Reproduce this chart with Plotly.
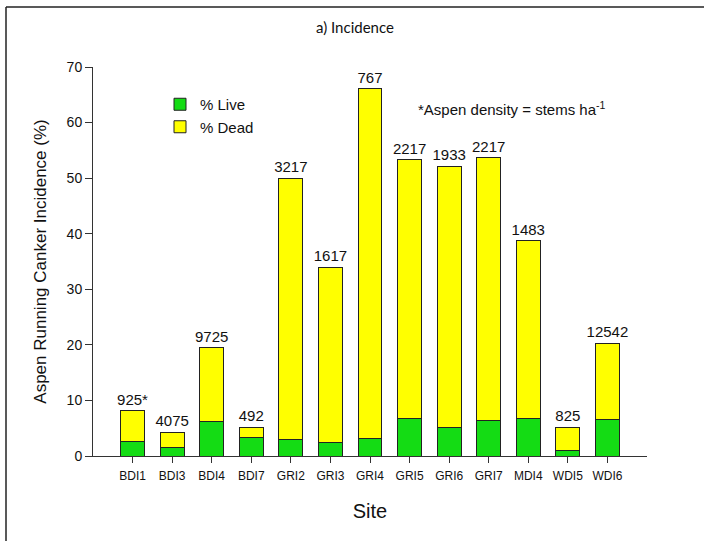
import plotly.graph_objects as go

sites = ["BDI1", "BDI3", "BDI4", "BDI7", "GRI2", "GRI3", "GRI4",
         "GRI5", "GRI6", "GRI7", "MDI4", "WDI5", "WDI6"]
pct_live = [2.7, 1.5, 6.2, 3.4, 2.9, 2.5, 3.2, 6.8, 5.2, 6.4, 6.8, 1.0, 6.6]
pct_total = [8.1, 4.3, 19.5, 5.2, 50.0, 34.0, 66.1, 53.3, 52.1, 53.7, 38.7, 5.2, 20.3]
pct_dead = [round(t - l, 1) for t, l in zip(pct_total, pct_live)]
density_labels = ["925*", "4075", "9725", "492", "3217", "1617", "767",
                  "2217", "1933", "2217", "1483", "825", "12542"]

FONT = "Arial, Liberation Sans, sans-serif"
W, H = 704, 541
L, R, T, B = 93, 57, 67, 85
pw, ph = W - L - R, H - T - B

fig = go.Figure()
fig.add_trace(go.Bar(
    x=sites, y=pct_live, name="% Live",
    marker=dict(color="#14dc14", line=dict(color="#222222", width=1)),
    width=0.6,
))
fig.add_trace(go.Bar(
    x=sites, y=pct_dead, name="% Dead",
    marker=dict(color="#ffff00", line=dict(color="#222222", width=1)),
    width=0.6,
    text=density_labels, textposition="outside",
    textfont=dict(family=FONT, size=15, color="#111111"),
    cliponaxis=False,
))

def px_x(p):
    return (p - L) / pw

def px_y(p):
    return (H - B - p) / ph

fig.update_layout(
    width=W, height=H,
    margin=dict(l=L, r=R, t=T, b=B, autoexpand=False),
    paper_bgcolor="white", plot_bgcolor="white",
    barmode="stack",
    uniformtext=dict(minsize=15, mode="show"),
    font=dict(family=FONT, color="#111111"),
    showlegend=True,
    legend=dict(
        x=px_x(160), y=px_y(88), xanchor="left", yanchor="top",
        traceorder="normal", bgcolor="rgba(0,0,0,0)",
        font=dict(family=FONT, size=15, color="#111111"),
        itemwidth=30, tracegroupgap=0,
    ),
    xaxis=dict(
        range=[-1.0, 13.0], showline=True, linecolor="#333333", linewidth=1,
        ticks="outside", ticklen=6, tickcolor="#333333", ticklabelstandoff=3,
        tickfont=dict(family=FONT, size=12, color="#111111"),
        showgrid=False, zeroline=False, automargin=False,
        title=dict(text="Site", font=dict(family=FONT, size=20, color="#111111"), standoff=21),
    ),
    yaxis=dict(
        range=[0, 70], showline=True, linecolor="#333333", linewidth=1,
        ticks="outside", ticklen=7, tickcolor="#333333",
        tickvals=[0, 10, 20, 30, 40, 50, 60, 70],
        tickfont=dict(family=FONT, size=14, color="#111111"),
        showgrid=False, zeroline=False, automargin=False,
        title=dict(text="Aspen Running Canker Incidence (%)",
                   font=dict(family=FONT, size=17, color="#111111"), standoff=15),
    ),
    annotations=[
        dict(text="a) Incidence", xref="paper", yref="paper",
             x=px_x(355), y=px_y(27), xanchor="center", yanchor="middle",
             showarrow=False, font=dict(family="Lato, Open Sans, sans-serif", size=15, color="#111111")),
        dict(text="*Aspen density = stems ha<sup>-1</sup>", xref="paper", yref="paper",
             x=px_x(416), y=px_y(109), xanchor="left", yanchor="middle",
             showarrow=False, font=dict(family=FONT, size=15, color="#111111")),
    ],
    shapes=[
        dict(type="line", xref="paper", yref="paper",
             x0=px_x(6), x1=px_x(6), y0=px_y(7), y1=px_y(541), line=dict(color="#222222", width=1.5)),
        dict(type="line", xref="paper", yref="paper",
             x0=px_x(6), x1=px_x(704), y0=px_y(7), y1=px_y(7), line=dict(color="#222222", width=1.5)),
    ],
)

fig.write_html("out.html", config={"displayModeBar": False},
               post_script="document.body.style.margin='0';document.body.style.overflow='hidden';")
